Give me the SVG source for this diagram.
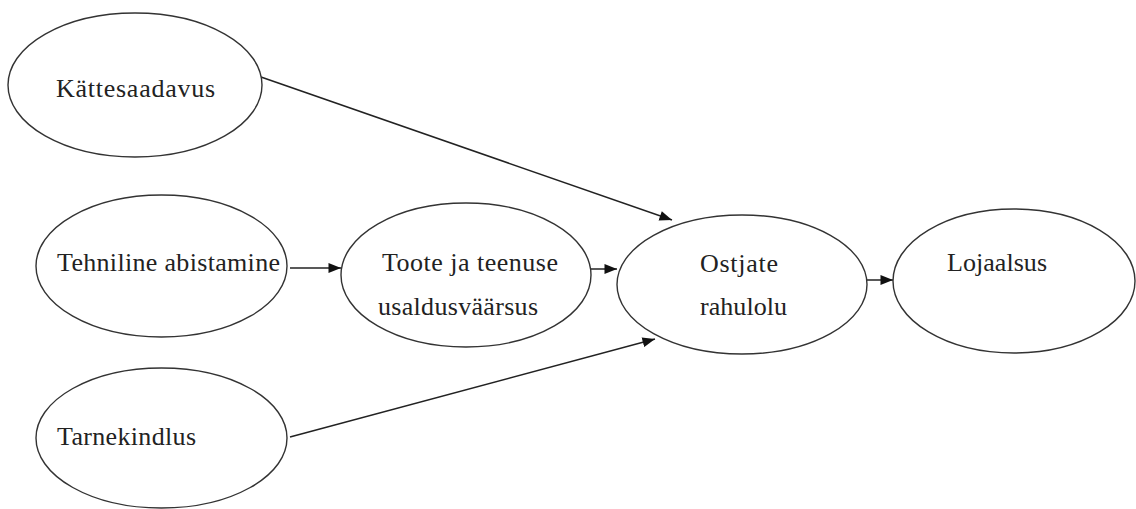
<svg xmlns="http://www.w3.org/2000/svg" width="1136" height="509" viewBox="0 0 1136 509">
<defs>
<marker id="ah" viewBox="0 0 10 8" refX="10" refY="4" markerWidth="13" markerHeight="10" markerUnits="userSpaceOnUse" orient="auto">
<path d="M0,0 L10,4 L0,8 Z" fill="#111"/>
</marker>
<style>
.n{fill:#fff;stroke:#333;stroke-width:1.4}
.t{font-family:"Liberation Serif","Times New Roman",serif;font-size:26px;fill:#222}
.c{fill:none;stroke:#222;stroke-width:1.5;marker-end:url(#ah)}
</style>
</defs>
<rect width="1136" height="509" fill="#fff"/>
<g id="connectors">
<line class="c" x1="261" y1="77" x2="672" y2="220"/>
<line class="c" x1="290" y1="268" x2="341" y2="268"/>
<line class="c" x1="591" y1="269" x2="617" y2="269"/>
<line class="c" x1="867" y1="280" x2="893" y2="280"/>
<line class="c" x1="290" y1="437" x2="655" y2="339"/>
</g>
<g id="n-kattesaadavus">
<ellipse class="n" cx="135" cy="85" rx="127" ry="72"/>
<text class="t" x="56" y="97" textLength="159" lengthAdjust="spacing">Kättesaadavus</text>
</g>
<g id="n-tehniline">
<ellipse class="n" cx="161.5" cy="266" rx="125.5" ry="71"/>
<text class="t" x="57" y="271" textLength="223" lengthAdjust="spacing">Tehniline abistamine</text>
</g>
<g id="n-toote">
<ellipse class="n" cx="466" cy="275" rx="125" ry="72"/>
<text class="t" x="382" y="271" textLength="176" lengthAdjust="spacing">Toote ja teenuse</text>
<text class="t" x="378" y="315" textLength="160" lengthAdjust="spacing">usaldusväärsus</text>
</g>
<g id="n-ostjate">
<ellipse class="n" cx="742" cy="284.5" rx="125" ry="69.5"/>
<text class="t" x="700" y="272" textLength="78" lengthAdjust="spacing">Ostjate</text>
<text class="t" x="700" y="315" textLength="87" lengthAdjust="spacing">rahulolu</text>
</g>
<g id="n-lojaalsus">
<ellipse class="n" cx="1014" cy="281" rx="121" ry="72"/>
<text class="t" x="947" y="271" textLength="100" lengthAdjust="spacing">Lojaalsus</text>
</g>
<g id="n-tarnekindlus">
<ellipse class="n" cx="161.5" cy="438" rx="125.5" ry="70"/>
<text class="t" x="57" y="445" textLength="139" lengthAdjust="spacing">Tarnekindlus</text>
</g>
</svg>
